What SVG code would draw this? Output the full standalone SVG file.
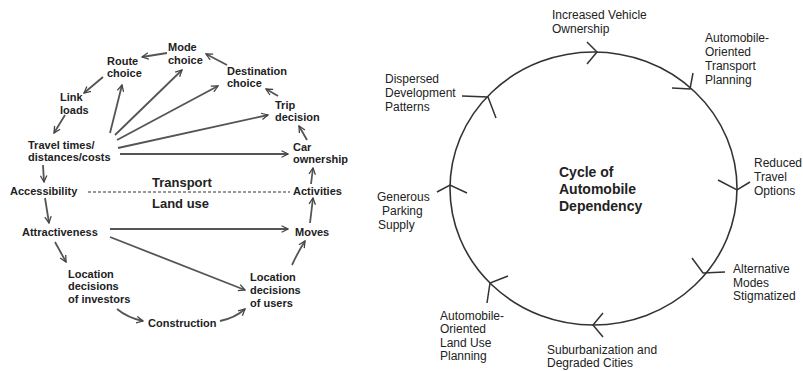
<svg xmlns="http://www.w3.org/2000/svg" width="803" height="371" viewBox="0 0 803 371">
<style>
.l{font-family:"Liberation Sans",Arial,sans-serif;font-size:11px;font-weight:bold;fill:#222}
.b{font-family:"Liberation Sans",Arial,sans-serif;font-size:13px;font-weight:bold;fill:#222}
.r{font-family:"Liberation Sans",Arial,sans-serif;font-size:12px;fill:#222}
.c{font-family:"Liberation Sans",Arial,sans-serif;font-size:14px;font-weight:bold;fill:#222}
.a{fill:none;stroke:#555;stroke-width:1.8;marker-end:url(#ah)}
.ch{fill:none;stroke:#333;stroke-width:1.5}
</style>
<defs>
<marker id="ah" viewBox="0 0 10 10" refX="9" refY="5" markerWidth="8" markerHeight="8" markerUnits="userSpaceOnUse" orient="auto">
<path d="M1,1 L9,5 L1,9" fill="none" stroke="#444" stroke-width="1.6"/>
</marker>
</defs>
<rect width="803" height="371" fill="#fff"/>

<g id="connectors">
<path class="a" d="M167,53 L142,57"/>
<path class="a" d="M227,65 L206,54"/>
<path class="a" d="M278,96 L266,89"/>
<path class="a" d="M307,140 L299,126"/>
<path class="a" d="M103,77 L84,93"/>
<path class="a" d="M65,115 L54,133"/>
<path class="a" d="M110,133 L122,85"/>
<path class="a" d="M115,135 L182,70"/>
<path class="a" d="M117,140 L218,86"/>
<path class="a" d="M118,148 L268,115"/>
<path class="a" d="M120,154 L288,154"/>
<path class="a" d="M43,165 L44,182"/>
<path class="a" d="M45,198 L49,223"/>
<path class="a" d="M110,229 L288,229"/>
<path class="a" d="M310,223 L313,198"/>
<path class="a" d="M311,184 L313,168"/>
<path class="a" d="M55,242 L66,262"/>
<path class="a" d="M110,237 L245,290"/>
<path class="a" d="M117,309 Q128,318 143,321"/>
<path class="a" d="M220,321 Q235,318 245,309"/>
<path class="a" d="M292,265 Q298,252 305,241"/>
<line x1="88" y1="192" x2="290" y2="192" stroke="#777" stroke-width="1.3" stroke-dasharray="3,2"/>

<ellipse cx="593.5" cy="188.5" rx="143.5" ry="136.5" fill="none" stroke="#333" stroke-width="1.6"/>
<polyline class="ch" points="587,42 597,52 587,64"/>
<polyline class="ch" points="672,88 690,89 693,73"/>
<polyline class="ch" points="718,180 737,190 750,182"/>
<polyline class="ch" points="692,258 703,273 725,272"/>
<polyline class="ch" points="603,313 593,325 603,337"/>
<polyline class="ch" points="508,276 490,283 487,303"/>
<polyline class="ch" points="437,192 450,185 467,193"/>
<polyline class="ch" points="462,96 488,97 496,118"/>
</g>

<g id="mode-choice"><text class="l" x="168" y="51">Mode</text><text class="l" x="168" y="64">choice</text></g>
<g id="route-choice"><text class="l" x="107" y="65">Route</text><text class="l" x="107" y="77">choice</text></g>
<g id="destination-choice"><text class="l" x="227" y="75">Destination</text><text class="l" x="227" y="87">choice</text></g>
<g id="link-loads"><text class="l" x="60" y="101">Link</text><text class="l" x="60" y="114">loads</text></g>
<g id="trip-decision"><text class="l" x="275" y="109">Trip</text><text class="l" x="275" y="121">decision</text></g>
<g id="travel-times"><text class="l" x="28" y="149">Travel times/</text><text class="l" x="28" y="161">distances/costs</text></g>
<g id="car-ownership"><text class="l" x="293" y="151">Car</text><text class="l" x="293" y="163">ownership</text></g>
<g id="accessibility"><text class="l" x="10" y="195">Accessibility</text></g>
<g id="activities"><text class="l" x="293" y="195">Activities</text></g>
<g id="transport"><text class="b" x="152" y="187">Transport</text></g>
<g id="land-use"><text class="b" x="152" y="208">Land use</text></g>
<g id="attractiveness"><text class="l" x="22" y="236">Attractiveness</text></g>
<g id="moves"><text class="l" x="295" y="236">Moves</text></g>
<g id="location-investors"><text class="l" x="68" y="278">Location</text><text class="l" x="68" y="290">decisions</text><text class="l" x="68" y="303">of investors</text></g>
<g id="location-users"><text class="l" x="250" y="281">Location</text><text class="l" x="250" y="294">decisions</text><text class="l" x="250" y="307">of users</text></g>
<g id="construction"><text class="l" x="148" y="327">Construction</text></g>

<g id="increased-vehicle"><text class="r" x="552" y="19">Increased Vehicle</text><text class="r" x="552" y="33">Ownership</text></g>
<g id="auto-transport"><text class="r" x="705" y="42">Automobile-</text><text class="r" x="705" y="56">Oriented</text><text class="r" x="705" y="70">Transport</text><text class="r" x="705" y="84">Planning</text></g>
<g id="reduced-travel"><text class="r" x="754" y="167">Reduced</text><text class="r" x="754" y="181">Travel</text><text class="r" x="754" y="195">Options</text></g>
<g id="alternative-modes"><text class="r" x="733" y="273">Alternative</text><text class="r" x="733" y="287">Modes</text><text class="r" x="733" y="300">Stigmatized</text></g>
<g id="suburbanization"><text class="r" x="547" y="354">Suburbanization and</text><text class="r" x="547" y="367">Degraded Cities</text></g>
<g id="auto-land-use"><text class="r" x="440" y="320">Automobile-</text><text class="r" x="440" y="333">Oriented</text><text class="r" x="440" y="347">Land Use</text><text class="r" x="440" y="360">Planning</text></g>
<g id="generous-parking"><text class="r" x="377" y="201">Generous</text><text class="r" x="382" y="215">Parking</text><text class="r" x="378" y="229">Supply</text></g>
<g id="dispersed"><text class="r" x="385" y="83">Dispersed</text><text class="r" x="385" y="97">Development</text><text class="r" x="385" y="111">Patterns</text></g>
<g id="cycle-center"><text class="c" x="559" y="177">Cycle of</text><text class="c" x="559" y="194">Automobile</text><text class="c" x="559" y="211">Dependency</text></g>
</svg>
